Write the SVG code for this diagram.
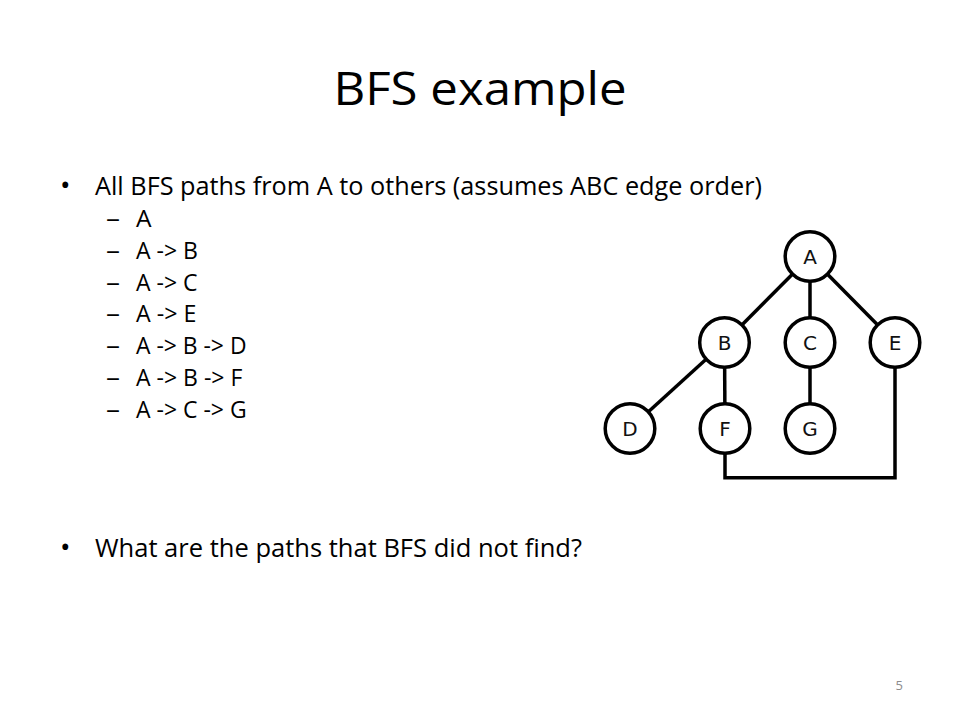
<svg xmlns="http://www.w3.org/2000/svg" width="960" height="720" viewBox="0 0 960 720">
  <style>
    .title { font-family: "Open Sans", "Liberation Sans", sans-serif; font-size: 46px; fill: #000; }
    .body { font-family: "Open Sans", "Liberation Sans", sans-serif; font-size: 25.6px; fill: #000; }
    .sub { font-family: "Open Sans", "Liberation Sans", sans-serif; font-size: 24.5px; fill: #000; }
    .dash { font-family: "Open Sans", "Liberation Sans", sans-serif; font-size: 24.5px; fill: #000; }
    .bullet { font-family: "Open Sans", "Liberation Sans", sans-serif; font-size: 28px; fill: #000; }
    .pnum { font-family: "Open Sans", "Liberation Sans", sans-serif; font-size: 13px; fill: #8c8c8c; }
    .edge { stroke: #000; stroke-width: 3.5; fill: none; stroke-linejoin: miter; }
    .node circle { fill: #fff; stroke: #000; stroke-width: 3.5; }
    .node text { font-family: "DejaVu Sans", sans-serif; font-size: 20px; fill: #111; text-anchor: middle; }
  </style>
  <rect width="960" height="720" fill="#fff"/>

  <text class="title" x="480" y="105" text-anchor="middle" textLength="293" lengthAdjust="spacingAndGlyphs">BFS example</text>

  <g id="text-body">
    <text class="bullet" x="60" y="195">•</text>
    <text class="body" x="95" y="195" textLength="667" lengthAdjust="spacingAndGlyphs">All BFS paths from A to others (assumes ABC edge order)</text>

    <text class="dash" x="106" y="226.7" textLength="14" lengthAdjust="spacingAndGlyphs">–</text>
    <text class="sub" x="136" y="226.7">A</text>
    <text class="dash" x="106" y="258.6" textLength="14" lengthAdjust="spacingAndGlyphs">–</text>
    <text class="sub" x="136" y="258.6" textLength="62" lengthAdjust="spacingAndGlyphs">A -&gt; B</text>
    <text class="dash" x="106" y="290.5" textLength="14" lengthAdjust="spacingAndGlyphs">–</text>
    <text class="sub" x="136" y="290.5" textLength="61.6" lengthAdjust="spacingAndGlyphs">A -&gt; C</text>
    <text class="dash" x="106" y="322.4" textLength="14" lengthAdjust="spacingAndGlyphs">–</text>
    <text class="sub" x="136" y="322.4" textLength="60.4" lengthAdjust="spacingAndGlyphs">A -&gt; E</text>
    <text class="dash" x="106" y="354.3" textLength="14" lengthAdjust="spacingAndGlyphs">–</text>
    <text class="sub" x="136" y="354.3" textLength="110.5" lengthAdjust="spacingAndGlyphs">A -&gt; B -&gt; D</text>
    <text class="dash" x="106" y="386.2" textLength="14" lengthAdjust="spacingAndGlyphs">–</text>
    <text class="sub" x="136" y="386.2" textLength="106.4" lengthAdjust="spacingAndGlyphs">A -&gt; B -&gt; F</text>
    <text class="dash" x="106" y="418.1" textLength="14" lengthAdjust="spacingAndGlyphs">–</text>
    <text class="sub" x="136" y="418.1" textLength="110.6" lengthAdjust="spacingAndGlyphs">A -&gt; C -&gt; G</text>

    <text class="bullet" x="60" y="556.7">•</text>
    <text class="body" x="95" y="556.7" textLength="487" lengthAdjust="spacingAndGlyphs">What are the paths that BFS did not find?</text>
  </g>

  <g id="connectors">
    <line class="edge" x1="810" y1="256.5" x2="724.5" y2="342.5"/>
    <line class="edge" x1="810" y1="256.5" x2="810" y2="342.5"/>
    <line class="edge" x1="810" y1="256.5" x2="895" y2="342.5"/>
    <line class="edge" x1="724.5" y1="342.5" x2="630" y2="428.5"/>
    <line class="edge" x1="724.5" y1="342.5" x2="725" y2="428.5"/>
    <line class="edge" x1="810" y1="342.5" x2="810" y2="428.5"/>
    <polyline class="edge" points="725,428.5 725,477.7 895,477.7 895,342.5"/>
  </g>

  <g id="node-A" class="node"><circle cx="810" cy="256.5" r="24.8"/><text x="810" y="263.7">A</text></g>
  <g id="node-B" class="node"><circle cx="724.5" cy="342.5" r="24.8"/><text x="724.5" y="349.7">B</text></g>
  <g id="node-C" class="node"><circle cx="810" cy="342.5" r="24.8"/><text x="810" y="349.7">C</text></g>
  <g id="node-E" class="node"><circle cx="895" cy="342.5" r="24.8"/><text x="895" y="349.7">E</text></g>
  <g id="node-D" class="node"><circle cx="630" cy="428.5" r="24.8"/><text x="630" y="435.7">D</text></g>
  <g id="node-F" class="node"><circle cx="725" cy="428.5" r="24.8"/><text x="725" y="435.7">F</text></g>
  <g id="node-G" class="node"><circle cx="810" cy="428.5" r="24.8"/><text x="810" y="435.7">G</text></g>

  <text class="pnum" x="903" y="690" text-anchor="end">5</text>
</svg>
